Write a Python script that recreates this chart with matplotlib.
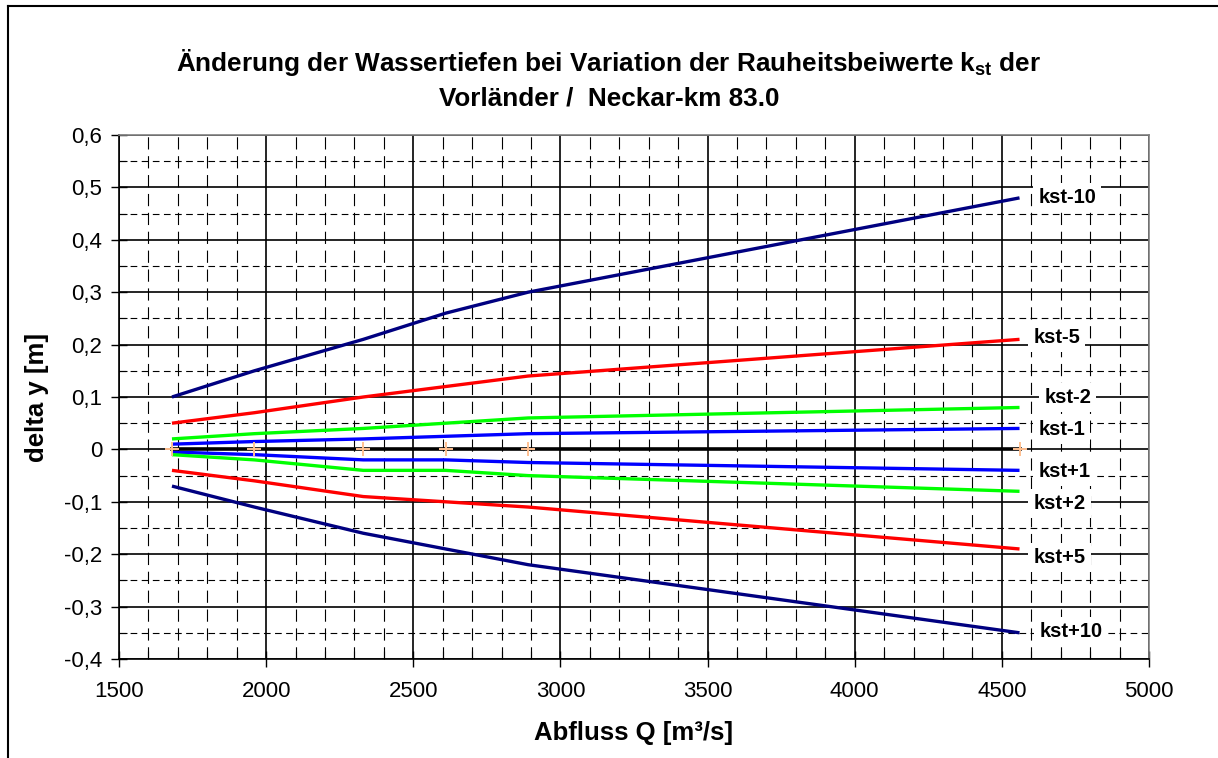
import matplotlib
matplotlib.use("Agg")
import matplotlib.pyplot as plt
from matplotlib.lines import Line2D
from matplotlib.ticker import MultipleLocator, FuncFormatter

plt.rcParams["font.family"] = ["Liberation Sans", "DejaVu Sans"]
plt.rcParams["mathtext.fontset"] = "custom"
plt.rcParams["mathtext.rm"] = "Liberation Sans:bold"
plt.rcParams["mathtext.bf"] = "Liberation Sans:bold"
plt.rcParams["mathtext.default"] = "bf"

# Abfluss Q [m³/s]
Q = [1680, 1960, 2330, 2610, 2890, 4560]

# delta y [m] for each variation of the floodplain roughness k_st
kst_m10 = [0.10, 0.15, 0.21, 0.26, 0.30, 0.48]
kst_m5 = [0.05, 0.07, 0.10, 0.12, 0.14, 0.21]
kst_m2 = [0.02, 0.03, 0.04, 0.05, 0.06, 0.08]
kst_m1 = [0.01, 0.015, 0.02, 0.025, 0.03, 0.04]
reference = [0.0, 0.0, 0.0, 0.0, 0.0, 0.0]
kst_p1 = [-0.005, -0.01, -0.02, -0.02, -0.025, -0.04]
kst_p2 = [-0.01, -0.02, -0.04, -0.04, -0.05, -0.08]
kst_p5 = [-0.04, -0.06, -0.09, -0.10, -0.11, -0.19]
kst_p10 = [-0.07, -0.11, -0.16, -0.19, -0.22, -0.35]

series_names = ["kst-10", "kst-5", "kst-2", "kst-1", "kst+1", "kst+2", "kst+5", "kst+10"]
series_values = [kst_m10, kst_m5, kst_m2, kst_m1, kst_p1, kst_p2, kst_p5, kst_p10]
series_colors = ["#000080", "#FF0000", "#00FF00", "#0000FF",
                 "#0000FF", "#00FF00", "#FF0000", "#000080"]
# label offsets from the line end, in pixels (right, up)
label_offsets = [(19, 0), (14, 2), (25, 10), (19, -1),
                 (19, -1), (14, -12), (14, -9), (20, 1)]

title_line1 = "Änderung der Wassertiefen bei Variation der Rauheitsbeiwerte k$_{st}$ der"
title_line2 = "Vorländer /  Neckar-km 83.0"
x_label = "Abfluss Q [m³/s]"
y_label = "delta y [m]"

W, H = 1218, 758
fig = plt.figure(figsize=(W / 100, H / 100), dpi=100)
ax = fig.add_axes([119 / W, 1 - 659 / H, (1149 - 119) / W, (659 - 135) / H])

ax.set_xlim(1500, 5000)
ax.set_ylim(-0.4, 0.6)
ax.xaxis.set_major_locator(MultipleLocator(500))
ax.xaxis.set_minor_locator(MultipleLocator(100))
ax.yaxis.set_major_locator(MultipleLocator(0.1))
ax.yaxis.set_minor_locator(MultipleLocator(0.05))

ax.grid(which="major", color="black", linewidth=1.2, linestyle="-", zorder=0)
ax.grid(which="minor", axis="y", color="black", linewidth=0.8,
        linestyle=(0, (6, 4)), zorder=0)
ax.grid(which="minor", axis="x", color="black", linewidth=0.8,
        linestyle=(0, (11, 6)), zorder=0)
ax.set_axisbelow(True)

for side in ["left", "bottom"]:
    ax.spines[side].set_color("black")
    ax.spines[side].set_linewidth(1.2)
for side in ["top", "right"]:
    ax.spines[side].set_color("#808080")
    ax.spines[side].set_linewidth(1.2)

ax.tick_params(which="major", direction="inout", length=12, width=1.0,
               labelsize=16, pad=6)
ax.tick_params(which="minor", direction="in", length=6, width=0.8)
ax.tick_params(axis="x", which="major", pad=10)


def comma(v, pos):
    s = f"{v:.1f}".replace(".", ",")
    if s in ("0,0", "-0,0"):
        return "0"
    return s


ax.yaxis.set_major_formatter(FuncFormatter(comma))
ax.xaxis.set_major_formatter(FuncFormatter(lambda v, p: f"{int(v)}"))

for name, vals, col, (dx, dy) in zip(series_names, series_values,
                                      series_colors, label_offsets):
    ax.plot(Q, vals, color=col, linewidth=2.4, solid_capstyle="butt", zorder=3)
    ax.annotate(name, xy=(Q[-1], vals[-1]), xycoords="data",
                xytext=(dx, dy), textcoords="offset pixels",
                ha="left", va="center", fontsize=14.5, fontweight="bold",
                bbox=dict(boxstyle="square,pad=0.25", fc="white", ec="none"),
                zorder=5, annotation_clip=False)

ax.plot(Q, reference, color="black", linewidth=2.6, marker="+",
        markersize=10, markeredgecolor="#FFC090", markeredgewidth=1.4, zorder=4)

ax.set_xlabel(x_label, fontsize=18.5, fontweight="bold")
ax.set_ylabel(y_label, fontsize=18.5, fontweight="bold")
ax.xaxis.set_label_coords(0.5, -(721 - 659) / (659 - 135))
ax.yaxis.set_label_coords(-(119 - 49) / (1149 - 119), 0.5)

fig.text(609 / W, 1 - 62 / H, title_line1, ha="center", va="center",
         fontsize=18.8, fontweight="bold")
fig.text(609 / W, 1 - 98 / H, title_line2, ha="center", va="center",
         fontsize=18.8, fontweight="bold")

# chart frame
fig.add_artist(Line2D([8 / W, 8 / W], [0, 1 - 6 / H], color="black",
                      linewidth=1.5, transform=fig.transFigure))
fig.add_artist(Line2D([8 / W, 1], [1 - 6 / H, 1 - 6 / H], color="black",
                      linewidth=1.5, transform=fig.transFigure))

fig.savefig("out.png", dpi=100)
